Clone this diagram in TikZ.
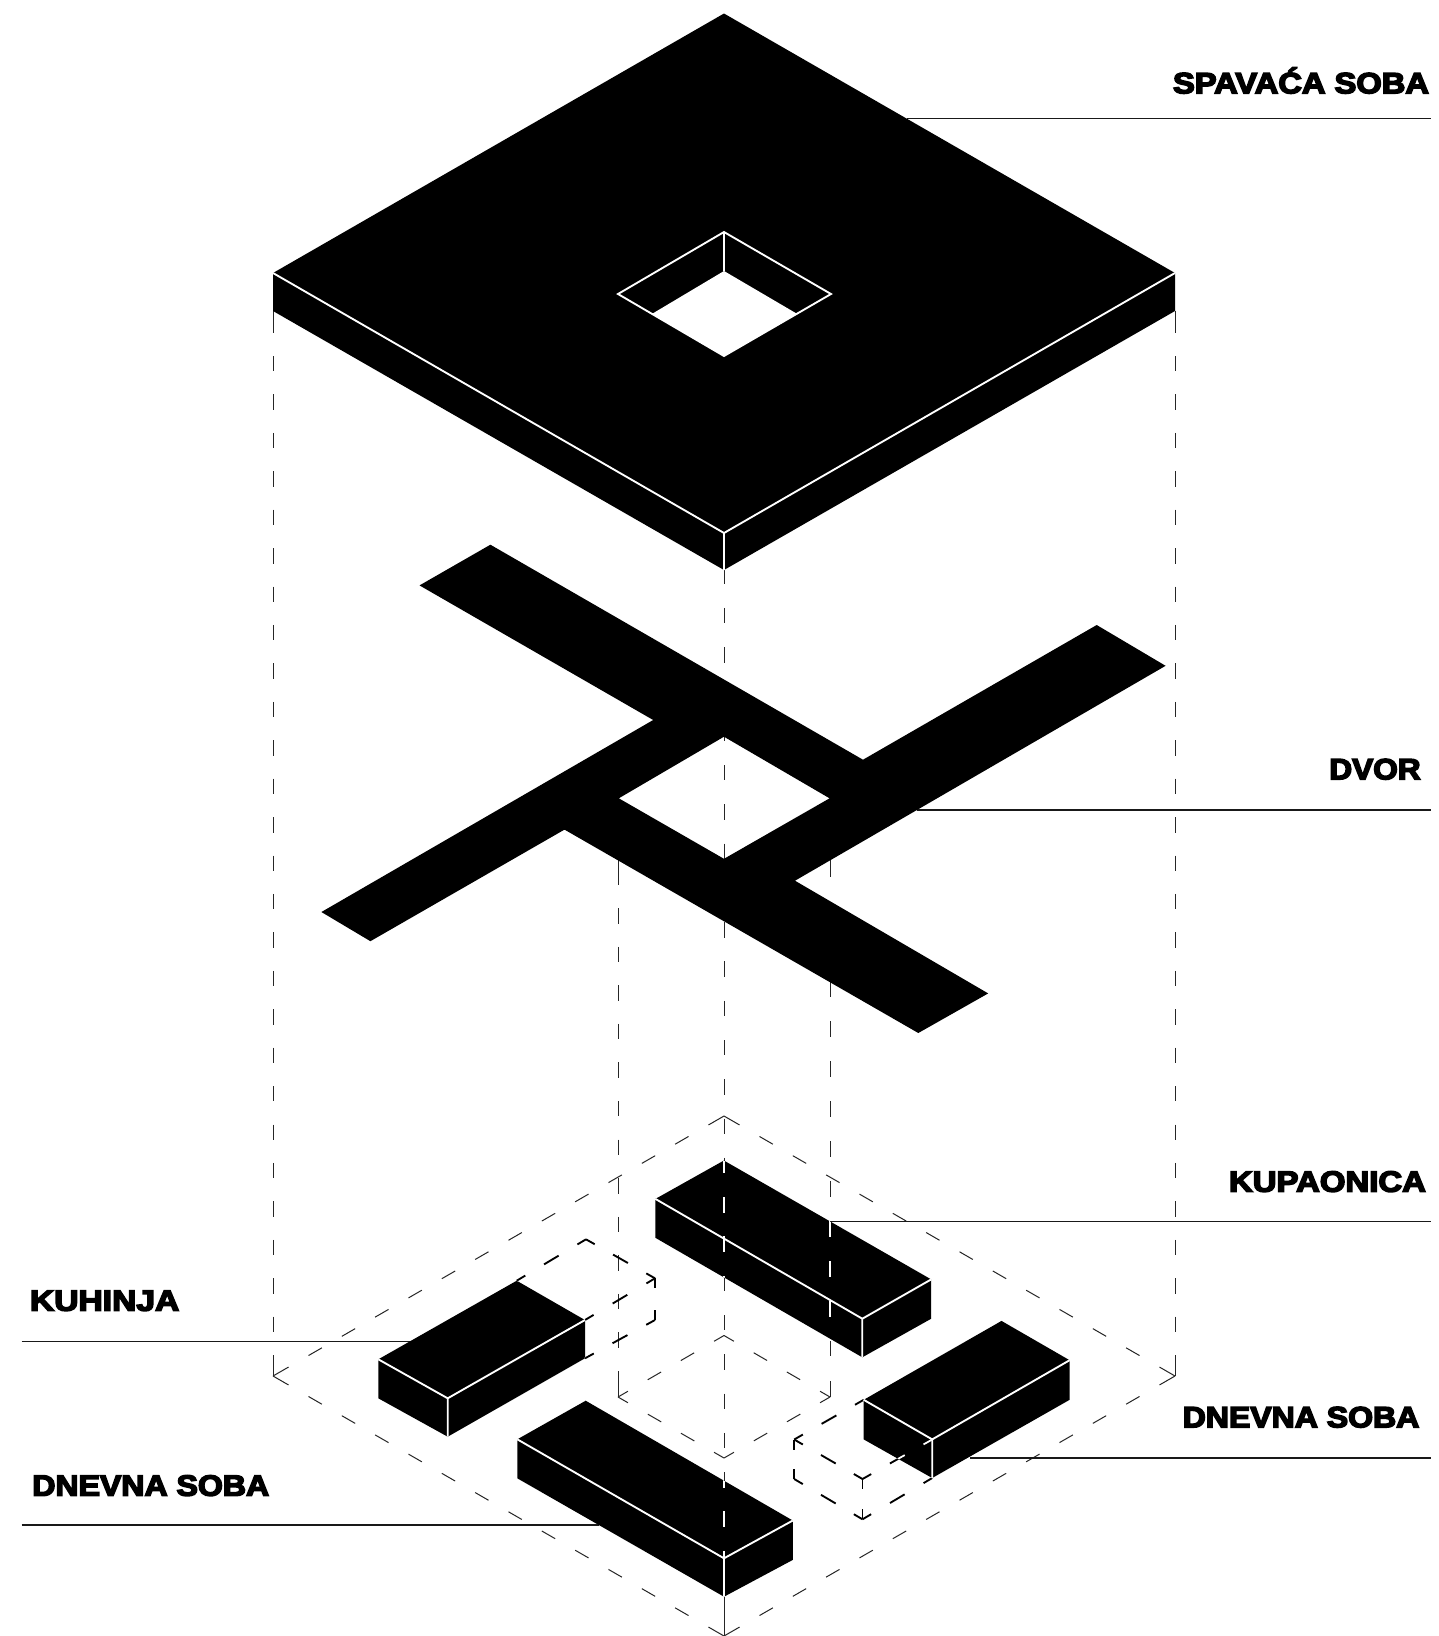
\documentclass[tikz,border=0pt]{standalone}
\usepackage{graphicx}
\usepackage{fontspec}
\usetikzlibrary{calc}
\newfontfamily\lblfont[BoldFeatures={FakeBold=5}]{Liberation Sans}
\tikzset{
  thinline/.style={line width=0.75pt,black!85},
  ghostline/.style={line width=1.4pt,black},
  whiteover/.style={line width=1.3pt,white},
  whiteedge/.style={line width=1.4pt,white,line join=miter},
  leader/.style={line width=1pt,black!90},
  solidblack/.style={fill=black,draw=none},
  labeltext/.style={inner sep=0pt,outer sep=0pt,anchor=base west,font=\lblfont\bfseries\fontsize{22pt}{24pt}\selectfont}
}
% dashed segment: end dashes e1,e2, interior dashes d, gaps about g (all in reference px)
\newcommand\dseg[7][]{%
  \path let \p1=(#2),\p2=(#3),\n1={veclen(\x2-\x1,\y2-\y1)} in \pgfextra{\xdef\dL{\n1}};
  \pgfmathsetmacro\eA{#4*0.75}%
  \pgfmathsetmacro\eB{#5*0.75}%
  \pgfmathtruncatemacro\dN{round((\dL/0.75-#4-#5-#7)/(#6+#7))}%
  \pgfmathsetmacro\dG{(\dL/0.75-#4-#5-\dN*#6)/(\dN+1)*0.75}%
  \pgfmathsetmacro\dD{#6*0.75}%
  \draw[#1] (#2) -- ($(#2)!\eA pt!(#3)$);
  \draw[#1] (#3) -- ($(#3)!\eB pt!(#2)$);
  \ifnum\dN>0
    \foreach \i in {1,...,\dN}{%
      \pgfmathsetmacro\dS{\eA+\i*\dG+(\i-1)*\dD}%
      \pgfmathsetmacro\dT{\dS+\dD}%
      \draw[#1] ($(#2)!\dS pt!(#3)$) -- ($(#2)!\dT pt!(#3)$);
    }%
  \fi
}
\newcommand\gseg[3]{\dseg[#1]{#2}{#3}{10}{10}{17}{21}}
\newcommand\centreline[1]{\dseg[#1]{724,570}{724,1636}{14}{46}{15.4}{23.2}}
\newcommand\courtright[1]{\dseg[#1]{830,860}{830,1397}{17}{16}{15.4}{23.2}}
\newcommand\ghostkitchen[1]{%
  \gseg{#1}{516.7,1280.7}{586,1239.3}
  \gseg{#1}{586,1239.3}{655,1278.3}
  \gseg{#1}{585,1320}{655,1278.3}
  \gseg{#1}{655,1278.3}{655,1320}
  \gseg{#1}{585,1358.3}{655,1320}
}
\newcommand\ghostliving[1]{%
  \gseg{#1}{863.7,1399.8}{794.2,1439.5}
  \gseg{#1}{794.2,1439.5}{862.5,1479}
  \gseg{#1}{862.5,1479}{932.2,1439.5}
  \gseg{#1}{794.2,1439.5}{794.2,1479}
  \gseg{#1}{862.5,1479}{862.5,1519.3}
  \gseg{#1}{794.2,1479}{862.5,1519.3}
  \gseg{#1}{862.5,1519.3}{932.2,1478}
}
% top, right, right-bottom, front-bottom, left-bottom, left, front
\newcommand\isobox[7]{%
  \fill[solidblack] (#1)--(#2)--(#3)--(#4)--(#5)--(#6)--cycle;
  \draw[whiteedge] (#6)--(#7)--(#2) (#7)--(#4);
}
\def\polyKup{(723.9,1160.5)--(931.2,1279.4)--(931.2,1318.7)--(862.3,1357.3)--(655.4,1237.8)--(655.4,1198.9)--cycle}
\def\polyLivR{(1001.5,1320.9)--(1069.6,1360.2)--(1069.6,1399.8)--(932.2,1478)--(863.7,1439.4)--(863.7,1399.8)--cycle}
\def\polyLivL{(585.7,1400.7)--(792.8,1520.5)--(792.8,1559.9)--(724,1596.7)--(517.3,1478.3)--(517.3,1439.3)--cycle}
\def\polyKuh{(516.7,1280.7)--(585,1320)--(585,1358.3)--(447.7,1436.7)--(378.3,1398.3)--(378.3,1359.3)--cycle}
\begin{document}
\begin{tikzpicture}[x=0.75pt,y=-0.75pt]
\useasboundingbox (0,0) rectangle (1439,1636);
\fill[white] (0,0) rectangle (1439,1636);

% vertical projection lines
\dseg[thinline]{273,311}{273,1376}{22}{21}{15.4}{23.2}
\dseg[thinline]{1175,311}{1175,1376}{22}{21}{15.4}{23.2}
\centreline{thinline}
\dseg[thinline]{618,860}{618,1397}{25}{26}{15.4}{23.2}
\courtright{thinline}

% outer plan outline
\dseg[thinline]{724,1116}{1175,1376}{17.9}{17.9}{15.4}{23.2}
\dseg[thinline]{1175,1376}{724,1636}{17.9}{17.9}{15.4}{23.2}
\dseg[thinline]{724,1636}{273,1376}{17.9}{17.9}{15.4}{23.2}
\dseg[thinline]{273,1376}{724,1116}{17.9}{17.9}{15.4}{23.2}
% inner court outline
\dseg[thinline]{724,1335.5}{830,1397}{11.5}{11.5}{15.4}{23.2}
\dseg[thinline]{830,1397}{724,1458}{11.5}{11.5}{15.4}{23.2}
\dseg[thinline]{724,1458}{618,1397}{11.5}{11.5}{15.4}{23.2}
\dseg[thinline]{618,1397}{724,1335.5}{11.5}{11.5}{15.4}{23.2}

% hidden box outlines
\ghostkitchen{ghostline}
\ghostliving{ghostline}

% leaders
\coordinate (spavS) at (907,118.7);   \coordinate (spavE) at (1431,118.7);
\coordinate (dvorS) at (917,810);     \coordinate (dvorE) at (1431,810);
\coordinate (kupS)  at (830,1221.5);  \coordinate (kupE)  at (1431,1221.5);
\coordinate (livrS) at (970,1458);    \coordinate (livrE) at (1431,1458);
\coordinate (kuhS)  at (21.7,1341.7); \coordinate (kuhE)  at (412,1341.7);
\coordinate (livlS) at (21.7,1525);   \coordinate (livlE) at (599,1525);
\draw[leader] (spavS)--(spavE);
\draw[leader] (dvorS)--(dvorE);
\draw[leader] (kupS)--(kupE);
\draw[leader] (livrS)--(livrE);
\draw[leader] (kuhS)--(kuhE);
\draw[leader] (livlS)--(livlE);

% courtyard cross
\fill[solidblack,even odd rule]
  (490.4,544.7)--(863,759.7)--(1096.7,625)--(1165.6,665.8)--(795,880.7)--(988.2,993.4)--(918.3,1033)--(564.5,829.6)--(370.4,941.2)--(321.4,912)--(653.2,720)--(419.5,585.4)--cycle
  (724,736.7)--(829.6,798.3)--(724,858.8)--(618.8,798.3)--cycle;

% upper slab
\fill[solidblack] (724,13.5)--(1175,273)--(1175,311)--(724,570)--(273,311)--(273,273)--cycle;
\draw[whiteedge] (273,273)--(724,533)--(1175,273) (724,533)--(724,570);
\draw[whiteedge,fill=black] (724,232)--(831,294)--(724,356)--(618,294)--cycle;
\fill[white] (724,271)--(797,313.8)--(724,356)--(652,313.9)--cycle;
\draw[whiteedge] (724,232)--(724,271);

% room boxes
\isobox{723.9,1160.5}{931.2,1279.4}{931.2,1318.7}{862.3,1357.3}{655.4,1237.8}{655.4,1198.9}{862.3,1318.7}
\isobox{1001.5,1320.9}{1069.6,1360.2}{1069.6,1399.8}{932.2,1478}{863.7,1439.4}{863.7,1399.8}{932.2,1439.4}
\isobox{585.7,1400.7}{792.8,1520.5}{792.8,1559.9}{724,1596.7}{517.3,1478.3}{517.3,1439.3}{724,1558.3}
\isobox{516.7,1280.7}{585,1320}{585,1358.3}{447.7,1436.7}{378.3,1398.3}{378.3,1359.3}{447.7,1398.3}

% lines that show white where they cross a box
\begin{scope}\clip \polyKup; \centreline{whiteover}\courtright{whiteover}\end{scope}
\begin{scope}\clip \polyLivL; \centreline{whiteover}\end{scope}
\begin{scope}\clip \polyLivR; \ghostliving{whiteover}\end{scope}
\begin{scope}\clip \polyKuh; \ghostkitchen{whiteover}\end{scope}

% labels
\node[labeltext] (spavL) at (1173,93.3)   {\resizebox{192pt}{\height}{SPAVAĆA SOBA}};
\node[labeltext] (dvorL) at (1329.3,779.3){\resizebox{68.5pt}{\height}{DVOR}};
\node[labeltext] (kupL)  at (1229,1191.7) {\resizebox{147.7pt}{\height}{KUPAONICA}};
\node[labeltext] (livrL) at (1182.7,1427.3){\resizebox{177.5pt}{\height}{DNEVNA SOBA}};
\node[labeltext] (kuhL)  at (30,1310.7)   {\resizebox{112pt}{\height}{KUHINJA}};
\node[labeltext] (livlL) at (32.3,1495.7) {\resizebox{177.7pt}{\height}{DNEVNA SOBA}};
\end{tikzpicture}
\end{document}
